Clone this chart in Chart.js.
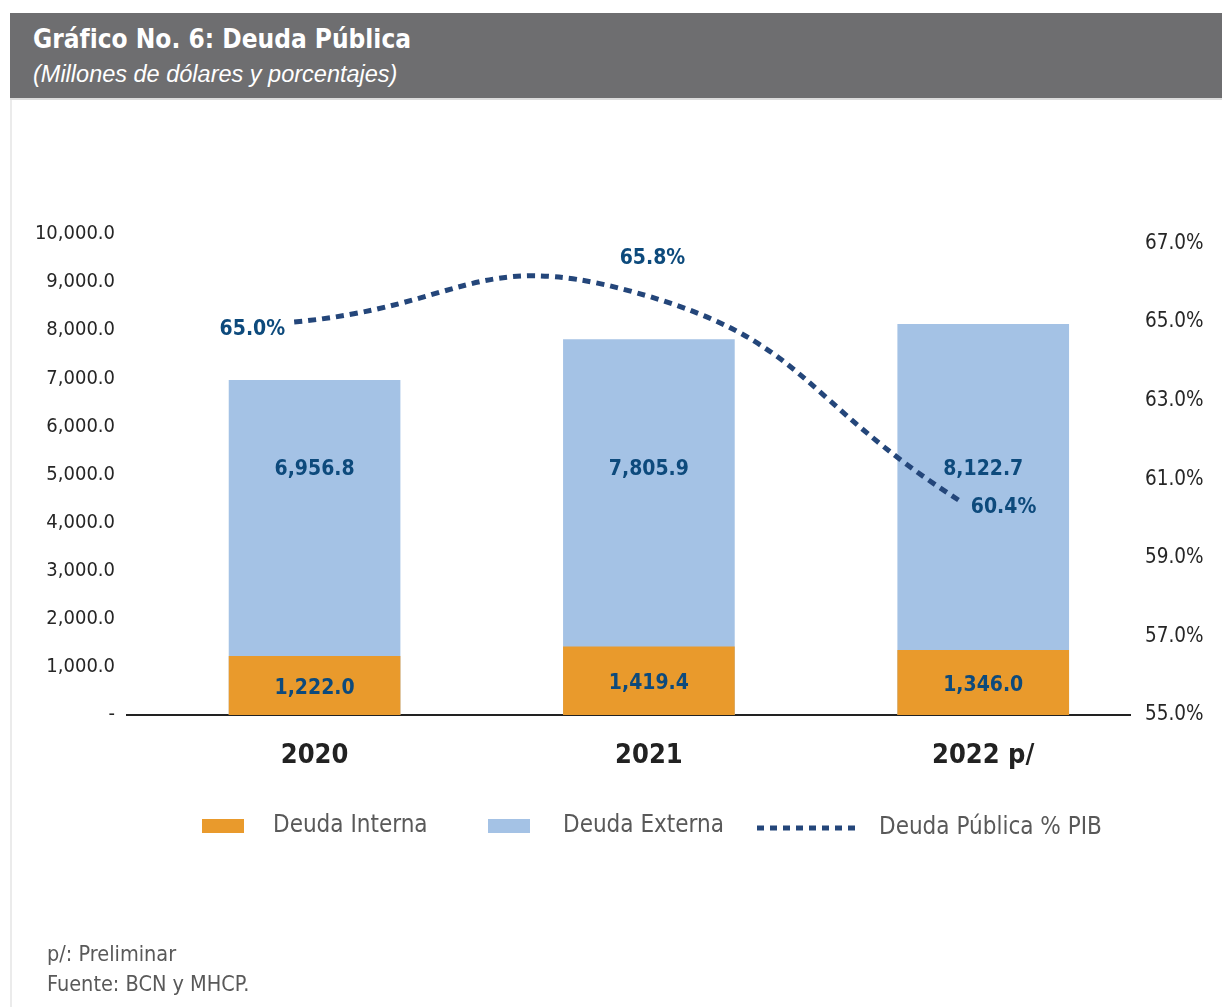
<!DOCTYPE html>
<html lang="es">
<head>
<meta charset="utf-8">
<title>Gráfico No. 6: Deuda Pública</title>
<script src="https://cdn.jsdelivr.net/npm/chart.js@4.4.1/dist/chart.umd.min.js"></script>
<style>
    body { margin: 0; background: #fff; }
    #wrap { position: relative; width: 1222px; height: 1007px; overflow: hidden; }
    #head {
        position: absolute; left: 10px; top: 13px; width: 1212px; height: 85px;
        background: #6e6e70; border-bottom: 2px solid #dcdcdc;
    }
    #head .title {
        position: absolute; left: 23px; top: 11px; color: #fff;
        font: bold 26px "DejaVu Sans Condensed", "DejaVu Sans", sans-serif;
    }
    #head .sub {
        position: absolute; left: 23px; top: 48px; color: #fff;
        font: italic 23.5px "Liberation Sans", Arial, sans-serif;
    }
    #side { position: absolute; left: 10px; top: 100px; width: 2px; height: 907px; background: #ebebeb; }
    #chart { position: absolute; left: 0; top: 0; }
    #notes {
        position: absolute; left: 47px; top: 939px; color: #595959;
        font: 21.5px "DejaVu Sans Condensed", "DejaVu Sans", sans-serif;
        line-height: 30px;
    }
</style>
</head>
<body>
<div id="wrap">
    <canvas id="chart" width="1222" height="1007"></canvas>
    <div id="head">
        <div class="title">Gráfico No. 6: Deuda Pública</div>
        <div class="sub">(Millones de dólares y porcentajes)</div>
    </div>
    <div id="side"></div>
    <div id="notes">p/: Preliminar<br>Fuente: BCN y MHCP.</div>
</div>

<script>
    // ---- data ----
    const years = ["2020", "2021", "2022 p/"];
    const deudaInterna = [1222.0, 1419.4, 1346.0];
    const deudaExterna = [6956.8, 7805.9, 8122.7];
    const deudaPib = [65.0, 65.8, 60.4];
    const leftTicks = [0, 1000, 2000, 3000, 4000, 5000, 6000, 7000, 8000, 9000, 10000];
    const rightTicks = [55, 57, 59, 61, 63, 65, 67];

    const seriesNames = ["Deuda Interna", "Deuda Externa", "Deuda Pública % PIB"];

    const FONT = '"DejaVu Sans Condensed", "DejaVu Sans", sans-serif';
    const orange = "#E99A2C";
    const lightBlue = "#A4C2E5";
    const navy = "#24467A";
    const labelBlue = "#0D4A7C";

    const fmt = v => v.toLocaleString("en-US", { minimumFractionDigits: 1, maximumFractionDigits: 1 });

    // bars sit a bit to the right of the line's category centres, like the original
    const barShift = 0.061;

    // ---- value labels on bars and line ----
    const valueLabels = {
        id: "valueLabels",
        afterDatasetsDraw(chart) {
            const ctx = chart.ctx;
            const yScale = chart.scales.y;
            ctx.save();
            ctx.fillStyle = labelBlue;
            ctx.font = "bold 21px " + FONT;
            ctx.textAlign = "center";
            ctx.textBaseline = "middle";

            chart.getDatasetMeta(0).data.forEach((bar, i) => {
                ctx.fillText(fmt(deudaInterna[i]), bar.x, (bar.y + bar.base) / 2 + 3);
            });
            chart.getDatasetMeta(1).data.forEach((bar, i) => {
                ctx.fillText(fmt(deudaExterna[i]), bar.x, yScale.getPixelForValue(5100));
            });

            const pts = chart.getDatasetMeta(2).data;
            const pct = i => deudaPib[i].toFixed(1) + "%";
            ctx.textAlign = "right";
            ctx.fillText(pct(0), pts[0].x - 9, pts[0].y + 8);
            ctx.textAlign = "center";
            ctx.fillText(pct(1), pts[1].x + 24, pts[1].y - 32);
            ctx.textAlign = "left";
            ctx.fillText(pct(2), pts[2].x + 8, pts[2].y + 5);
            ctx.restore();
        }
    };

    // ---- legend ----
    const bottomLegend = {
        id: "bottomLegend",
        afterDraw(chart) {
            const ctx = chart.ctx;
            const cy = 826;
            ctx.save();
            ctx.font = "24px " + FONT;
            ctx.textBaseline = "middle";

            ctx.fillStyle = orange;
            ctx.fillRect(202, cy - 7, 42, 14);
            ctx.fillStyle = "#595959";
            ctx.fillText(seriesNames[0], 273, cy);

            ctx.fillStyle = lightBlue;
            ctx.fillRect(488, cy - 7, 42, 14);
            ctx.fillStyle = "#595959";
            ctx.fillText(seriesNames[1], 563, cy);

            ctx.strokeStyle = navy;
            ctx.lineWidth = 5;
            ctx.setLineDash([7, 6]);
            ctx.beginPath();
            ctx.moveTo(757, cy + 2);
            ctx.lineTo(858, cy + 2);
            ctx.stroke();
            ctx.setLineDash([]);
            ctx.fillText(seriesNames[2], 879, cy + 2);
            ctx.restore();
        }
    };

    new Chart(document.getElementById("chart"), {
        type: "bar",
        data: {
            datasets: [{
                label: seriesNames[0],
                data: deudaInterna.map((v, i) => ({ x: i, y: v })),
                backgroundColor: orange,
                xAxisID: "x",
                yAxisID: "y"
            }, {
                label: seriesNames[1],
                data: deudaExterna.map((v, i) => ({ x: i, y: v })),
                backgroundColor: lightBlue,
                xAxisID: "x",
                yAxisID: "y"
            }, {
                type: "line",
                label: seriesNames[2],
                data: deudaPib.map((v, i) => ({ x: i, y: v })),
                borderColor: navy,
                borderWidth: 5,
                borderDash: [8, 6],
                borderCapStyle: "butt",
                pointRadius: 0,
                tension: 0.5,
                fill: false,
                order: -1,
                xAxisID: "xLine",
                yAxisID: "y2"
            }]
        },
        options: {
            responsive: false,
            animation: false,
            events: [],
            grouped: false,
            barThickness: 171,
            layout: { padding: { top: 234, bottom: 232, left: 0, right: 0 } },
            plugins: {
                legend: { display: false },
                tooltip: { enabled: false }
            },
            scales: {
                x: {
                    type: "linear",
                    position: "bottom",
                    offset: false,
                    min: -0.5 - barShift,
                    max: 2.5 - barShift,
                    afterBuildTicks: s => { s.ticks = years.map((_, i) => ({ value: i })); },
                    afterFit: s => { s.height = 60; },
                    ticks: {
                        callback: v => years[v],
                        font: { family: FONT, size: 27, weight: "bold" },
                        color: "#222",
                        padding: 25,
                        maxRotation: 0
                    },
                    grid: { display: false, drawTicks: false },
                    border: { display: true, color: "#222", width: 2 }
                },
                xLine: {
                    type: "linear",
                    display: false,
                    offset: false,
                    min: -0.5,
                    max: 2.5
                },
                y: {
                    position: "left",
                    min: 0,
                    max: 10000,
                    afterBuildTicks: s => { s.ticks = leftTicks.map(v => ({ value: v })); },
                    afterFit: s => { s.width = 127; },
                    ticks: {
                        callback: v => v === 0 ? "-" : fmt(v),
                        font: { family: FONT, size: 20 },
                        color: "#262626",
                        padding: 12
                    },
                    grid: { display: false, drawTicks: false },
                    border: { display: false }
                },
                y2: {
                    position: "right",
                    min: 55,
                    max: 67.24,
                    afterBuildTicks: s => { s.ticks = rightTicks.map(v => ({ value: v })); },
                    afterFit: s => { s.width = 92; },
                    ticks: {
                        callback: v => v.toFixed(1) + "%",
                        font: { family: FONT, size: 20.5 },
                        color: "#262626",
                        padding: 15
                    },
                    grid: { display: false, drawTicks: false },
                    border: { display: false }
                }
            }
        },
        plugins: [valueLabels, bottomLegend]
    });
</script>
</body>
</html>
